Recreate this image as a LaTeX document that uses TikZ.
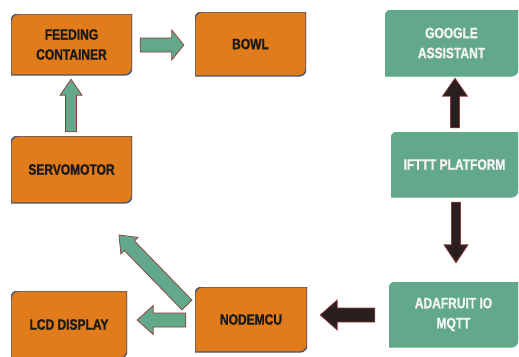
\documentclass[tikz,border=0pt]{standalone}
\usepackage{fontspec}
\setmainfont[FakeStretch=0.8, BoldFeatures={FakeBold=1.2}]{Liberation Sans}
\usetikzlibrary{calc}
\definecolor{orng}{HTML}{E07C1C}
\definecolor{oborder}{HTML}{4A5570}
\definecolor{grn}{HTML}{62A88A}
\definecolor{ared}{HTML}{8E3B3B}
\definecolor{dark}{HTML}{2A1F1F}
\definecolor{otext}{HTML}{1A1A1A}
\definecolor{gtext}{HTML}{F4F4F4}
\newcommand\blockarrow[6]{%
  \coordinate (neck) at ($(#2)!#5!(#1)$);
  \draw[#6] ($(#1)!#3!90:(#2)$) -- ($(neck)!#3!90:(#2)$) -- ($(neck)!#4!90:(#2)$)
    -- (#2) -- ($(neck)!#4!-90:(#2)$) -- ($(neck)!#3!-90:(#2)$) -- ($(#1)!#3!-90:(#2)$) -- cycle;}
\tikzset{
  diagshape/.style 2 args={path picture={
    \path[fill=#1,draw=#2,line width=1.4pt]
      (path picture bounding box.south west)
      -- ([yshift=-7pt]path picture bounding box.north west)
      arc[start angle=180,end angle=90,radius=7pt]
      -- (path picture bounding box.north east)
      -- ([yshift=7pt]path picture bounding box.south east)
      arc[start angle=0,end angle=-90,radius=7pt]
      -- cycle;}},
  box/.style={rectangle, inner sep=0pt, align=center, font=\bfseries\fontsize{15}{20}\selectfont},
  obox/.style={box, text=otext, diagshape={orng}{oborder}},
  gbox/.style={box, text=gtext, diagshape={grn}{grn}},
  garrow/.style={fill=grn, draw=ared, line width=0.7pt, line join=miter},
  darrow/.style={fill=dark, draw=ared, line width=0.7pt, line join=miter},
}
\begin{document}
\begin{tikzpicture}[x=1pt,y=1pt]
\useasboundingbox (0,0) rectangle (519,-356);
\clip (0,0) rectangle (519,-356);
\fill[white] (0,0) rectangle (519,-356);
% boxes
\node[obox, minimum width=121pt, minimum height=61pt] (fc) at (71.5,-44.5) {FEEDING\\CONTAINER};
\node[obox, minimum width=111pt, minimum height=64pt] (bowl) at (250.5,-44) {BOWL};
\node[obox, minimum width=121pt, minimum height=67pt] (servo) at (71.5,-169.5) {SERVOMOTOR};
\node[gbox, minimum width=133pt, minimum height=66pt] (google) at (451.5,-43) {GOOGLE\\ASSISTANT};
\node[gbox, minimum width=127pt, minimum height=65pt] (ifttt) at (454.5,-164.5) {IFTTT PLATFORM};
\node[obox, minimum width=116pt, minimum height=67pt] (lcd) at (69,-324.5) {LCD DISPLAY};
\node[obox, minimum width=112pt, minimum height=65pt] (node) at (251,-319.5) {NODEMCU};
\node[gbox, minimum width=129pt, minimum height=65pt] (ada) at (453.5,-314.5) {ADAFRUIT IO\\MQTT};
% connector end points
\coordinate (a1s) at ($(fc.east)+(8,-0.5)$);
\coordinate (a1e) at ($(bowl.west)+(-11,-1)$);
\coordinate (a2s) at ($(servo.north)+(-0.5,4)$);
\coordinate (a2e) at ($(fc.south)+(-0.5,-4)$);
\coordinate (a3s) at (187,-305);
\coordinate (a3e) at (119,-235);
\coordinate (a4s) at ($(node.west)+(-9,-0.5)$);
\coordinate (a4e) at ($(lcd.east)+(10,4.5)$);
\coordinate (a5s) at ($(ifttt.north)+(0.5,4)$);
\coordinate (a5e) at ($(google.south)+(3.5,-2)$);
\coordinate (a6s) at ($(ifttt.south)+(1.5,-5)$);
\coordinate (a6e) at ($(ada.north)+(2.5,19)$);
\coordinate (a7s) at ($(ada.west)+(-14,-0.5)$);
\coordinate (a7e) at ($(node.east)+(13,4.5)$);
% arrows
\blockarrow{a1s}{a1e}{7pt}{15pt}{12pt}{garrow}
\blockarrow{a2s}{a2e}{5.5pt}{11pt}{16pt}{garrow}
\blockarrow{a3s}{a3e}{7pt}{12pt}{15pt}{garrow}
\blockarrow{a4s}{a4e}{7pt}{14.5pt}{16pt}{garrow}
\blockarrow{a5s}{a5e}{4.5pt}{12.5pt}{18pt}{darrow}
\blockarrow{a6s}{a6e}{4.5pt}{12pt}{18pt}{darrow}
\blockarrow{a7s}{a7e}{7pt}{15pt}{17pt}{darrow}
\end{tikzpicture}
\end{document}
